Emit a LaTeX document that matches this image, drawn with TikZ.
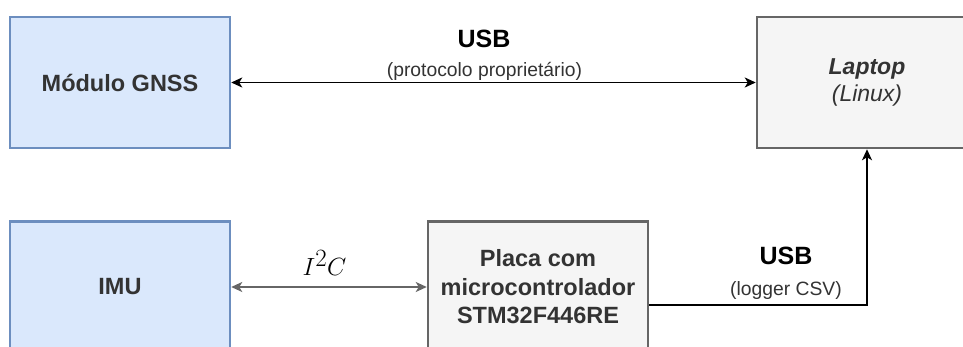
\documentclass[tikz,border=0pt]{standalone}
\usepackage[no-math]{fontspec}
\setmainfont{Liberation Sans}
\usetikzlibrary{arrows.meta}
\definecolor{bluefill}{HTML}{DAE8FC}
\definecolor{bluestroke}{HTML}{6C8EBF}
\definecolor{grayfill}{HTML}{F5F5F5}
\definecolor{graystroke}{HTML}{666666}
\definecolor{txt}{HTML}{333333}
\tikzset{
  mytip/.tip={Stealth[length=11pt,width=10pt,inset=3pt]},
  bluebox/.style={draw=bluestroke, fill=bluefill, line width=2.5pt, minimum width=220pt, minimum height=131pt, inner sep=0pt, text=txt, font=\fontsize{23.5}{28.5}\selectfont\bfseries, align=center},
  graybox/.style={draw=graystroke, fill=grayfill, line width=2.5pt, minimum width=220pt, minimum height=131pt, inner sep=0pt, text=txt, font=\fontsize{23.5}{28.5}\selectfont\bfseries, align=center},
  conn/.style={line width=1.8pt, draw=black},
  biglabel/.style={font=\fontsize{25}{30}\selectfont\bfseries, anchor=base, inner sep=0pt},
  smalllabel/.style={font=\fontsize{19.3}{23}\selectfont, anchor=base, inner sep=0pt, text=txt},
}
\begin{document}
\begin{tikzpicture}[x=1pt,y=-1pt]
\useasboundingbox (0,0) rectangle (963,347);
\clip (0,0) rectangle (963,347);
\node[bluebox] (gnss) at (120,82.5) {Módulo GNSS};
\node[graybox, font=\fontsize{23}{27}\selectfont\bfseries\itshape] (laptop) at (867,82.5) {Laptop\\{\mdseries (Linux)}};
\node[bluebox] (imu) at (120,287) {IMU};
\node[graybox] (placa) at (538,287) {Placa com\\microcontrolador\\STM32F446RE};
\draw[conn, mytip-mytip] (gnss.east) -- (laptop.west);
\node[biglabel] (usb1) at (484,48) {USB};
\node[smalllabel] (usb1s) at (484.5,77) {(protocolo proprietário)};
\draw[conn, draw=graystroke, mytip-mytip] (imu.east) -- (placa.west);
\node[anchor=base, inner sep=0pt, font=\fontsize{36}{40}\selectfont] (i2c) at (324.5,276) {$I^2C$};
\coordinate (bend) at (867,305);
\draw[conn, -mytip] (placa.east |- bend) -- (bend) -- (laptop.south);
\node[biglabel] (usb2) at (786,265) {USB};
\node[smalllabel] (usb2s) at (786,295) {(logger CSV)};
\end{tikzpicture}
\end{document}
